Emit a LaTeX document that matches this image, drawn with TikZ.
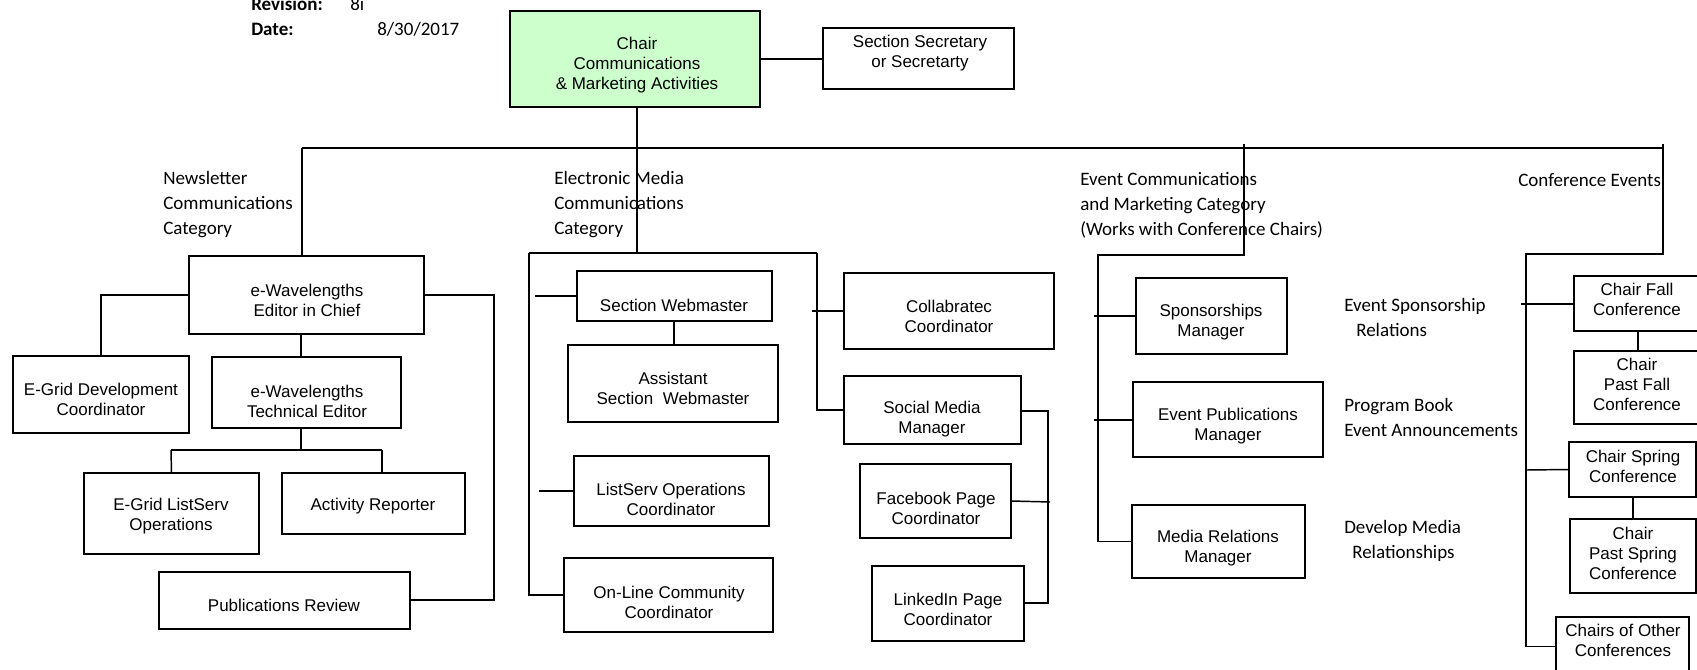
\documentclass[tikz,border=0pt]{standalone}
\usepackage{fontspec}
\setmainfont{Liberation Sans}
\newfontfamily\calfont{Carlito}
\begin{document}
\begin{tikzpicture}[x=0.75pt,y=-0.75pt,
  box/.style={draw,line width=1.1pt,inner sep=0pt,outer sep=0pt},
  btxt/.style={font=\fontsize{12.75pt}{15pt}\selectfont,align=center,inner sep=0pt},
  cat/.style={font=\calfont\fontsize{14.25pt}{18.75pt}\selectfont,align=left,inner sep=0pt,anchor=west},
  hdr/.style={font=\calfont\fontsize{14.25pt}{18.75pt}\selectfont,inner sep=0pt,anchor=base west},
  ln/.style={line width=1.1pt},
  thk/.style={line width=2pt}]
\useasboundingbox (0,0) rectangle (1697,670);

% box helper: name, x1, y1, x2, y2, text-x, text-y, text
\def\B#1#2#3#4#5#6#7#8{%
  \node[box,minimum width={(#4-#2)*0.75pt},minimum height={(#5-#3)*0.75pt}] (#1) at ({(#2+#4)/2},{(#3+#5)/2}) {};
  \node[btxt] (#1-t) at (#6,#7) {#8};}

% header
\node[hdr] (revl) at (251,11) {\bfseries Revision:};
\node[hdr] (revv) at (350,11) {8i};
\node[hdr] (datel) at (251,36) {\bfseries Date:};
\node[hdr] (datev) at (377,36) {8/30/2017};

% top
\node[box,fill={rgb,255:red,204;green,255;blue,204},minimum width={250*0.75pt},minimum height={96*0.75pt}] (chair) at (635,59) {};
\node[btxt] (chair-t) at (637,65) {Chair\\Communications\\\& Marketing Activities};
\B{sec}{823}{28}{1014}{89}{920}{53}{Section Secretary\\or Secretarty}

% newsletter group
\B{editor}{189}{256}{424}{334}{307}{300}{e-Wavelengths\\Editor in Chief}
\B{egdev}{13}{356}{189}{433}{101}{399}{E-Grid Development\\Coordinator}
\B{tech}{212}{357}{401}{428}{307}{401}{e-Wavelengths\\Technical Editor}
\B{egls}{84}{473}{259}{554}{171}{516}{E-Grid ListServ\\Operations}
\B{activity}{282}{473}{465}{534}{373}{506}{Activity Reporter}
\B{pubrev}{159}{572}{410}{629}{284}{605}{Publications Review}

% electronic media group
\B{web}{577}{271}{772}{321}{674}{305}{Section Webmaster}
\B{asst}{568}{345}{778}{422}{673}{388}{Assistant\\Section\ \ Webmaster}
\B{lsops}{574}{456}{769}{526}{671}{499}{ListServ Operations\\Coordinator}
\B{online}{564}{558}{773}{632}{669}{602}{On-Line Community\\Coordinator}
\B{collab}{844}{273}{1054}{349}{949}{316}{Collabratec\\Coordinator}
\B{social}{844}{376}{1021}{444}{932}{419}{Social Media\\Manager}
\B{fb}{860}{464}{1011}{538}{936}{508}{Facebook Page\\Coordinator}
\B{li}{872}{566}{1024}{641}{948}{609}{LinkedIn Page\\Coordinator}

% event group
\B{spons}{1136}{278}{1287}{354}{1211}{322}{Sponsorships\\Manager}
\B{evpub}{1133}{382}{1323}{457}{1228}{426}{Event Publications\\Manager}
\B{media}{1132}{505}{1305}{578}{1218}{548}{Media Relations\\Manager}

% conference group
\B{fall}{1574}{276}{1702}{331}{1637}{299}{Chair Fall\\Conference}
\B{pastfall}{1574}{351}{1702}{424}{1637}{384}{Chair\\Past Fall\\Conference}
\B{spring}{1569}{442}{1696}{497}{1633}{466}{Chair Spring\\Conference}
\B{pastspring}{1570}{519}{1696}{593}{1633}{553}{Chair\\Past Spring\\Conference}
\B{others}{1556}{617}{1689}{676}{1623}{640}{Chairs of Other\\Conferences}

% category labels
\node[cat] (nlcat) at (163,205) {Newsletter\\Communications\\Category};
\node[cat] (emcat) at (554,205) {Electronic Media\\Communications\\Category};
\node[cat] (evcat) at (1080,205) {Event Communications\\and Marketing Category\\(Works with Conference Chairs)};
\node[cat] (cfcat) at (1518,180) {Conference Events};
\node[cat] (sp-note) at (1344,317) {Event Sponsorship\\\hspace*{9pt}Relations};
\node[cat] (pb-note) at (1344,417) {Program Book\\Event Announcements};
\node[cat] (dm-note) at (1344,541) {Develop Media\\\hspace*{6pt}Relationships};

% coordinates
\coordinate (busL) at (302,148);
\coordinate (busM) at (637,148);
\coordinate (busE) at (1244,148);
\coordinate (busR) at (1663,148);
\coordinate (emL) at (529,253);
\coordinate (emM) at (637,253);
\coordinate (emR) at (817,253);
\coordinate (evT) at (1244,255);
\coordinate (evL) at (1098,255);
\coordinate (cfT) at (1663,254);
\coordinate (cfL) at (1526,254);

% top connectors
\draw[thk] (chair.east) -- (chair.east -| sec.west);
\draw[thk] (chair.south -| busM) -- (busM);
\draw[ln] (busM) -- (emM);
\draw[ln] (busL) -- (busR);
\draw[ln] (busL) -- (busL |- editor.north);
\draw[ln] ([yshift=3pt]busE) -- (evT) -- (evL) -- (evL |- media.west) -- (media.west);
\draw[ln] ([yshift=3pt]busR) -- (cfT) -- (cfL) -- (cfL |- others.west) -- (others.west);

% newsletter connectors
\coordinate (edL) at (101,295);
\coordinate (edR) at (494,295);
\coordinate (tkL) at (171,450);
\coordinate (tkR) at (382,450);
\coordinate (tkM) at (301,450);
\coordinate (prR) at (494,600);
\draw[ln] (editor.west |- edL) -- (edL) -- (egdev.north);
\draw[thk] (editor.south -| tkM) -- (tech.north -| tkM);
\draw[thk] (tech.south -| tkM) -- (tkM);
\draw[ln] (tkL) -- (tkR);
\draw[ln] (tkL) -- (egls.north);
\draw[ln] (tkR) -- (tkR |- activity.north);
\draw[ln] (editor.east |- edR) -- (edR) -- (prR) -- (pubrev.east |- prR);

% electronic media connectors
\coordinate (webS) at (535,296);
\coordinate (lsS) at (539,491);
\coordinate (coS) at (812,311);
\coordinate (smR) at (1048,411);
\coordinate (liR) at (1048,603);
\coordinate (fbR) at (1050,502);
\draw[ln] (emL) -- (emR);
\draw[ln] (emL) -- (emL |- online.west) -- (online.west);
\draw[ln] (emR) -- (emR |- social.west) -- (social.west);
\draw[thk] (webS) -- (web.west);
\draw[ln] (web.south -| 674,0) -- (asst.north -| 674,0);
\draw[thk] (lsS) -- (lsops.west |- lsS);
\draw[thk] (coS) -- (collab.west);
\draw[ln] (social.east |- smR) -- (smR) -- (liR) -- (li.east |- liR);
\draw[ln] (fb.east) -- (fbR);

% event connectors
\coordinate (spS) at (1094,316);
\coordinate (epS) at (1094,420);
\draw[thk] (spS) -- (spons.west);
\draw[ln] (epS) -- (evpub.west |- epS);

% conference connectors
\coordinate (faS) at (1521,304);
\coordinate (spgS) at (1527,470);
\draw[thk] (faS) -- (fall.west |- faS);
\draw[thk] (fall.south -| 1638,0) -- (pastfall.north -| 1638,0);
\draw[ln] (spgS) -- (spring.west);
\draw[thk] (spring.south -| 1633,0) -- (pastspring.north -| 1633,0);
\end{tikzpicture}
\end{document}
